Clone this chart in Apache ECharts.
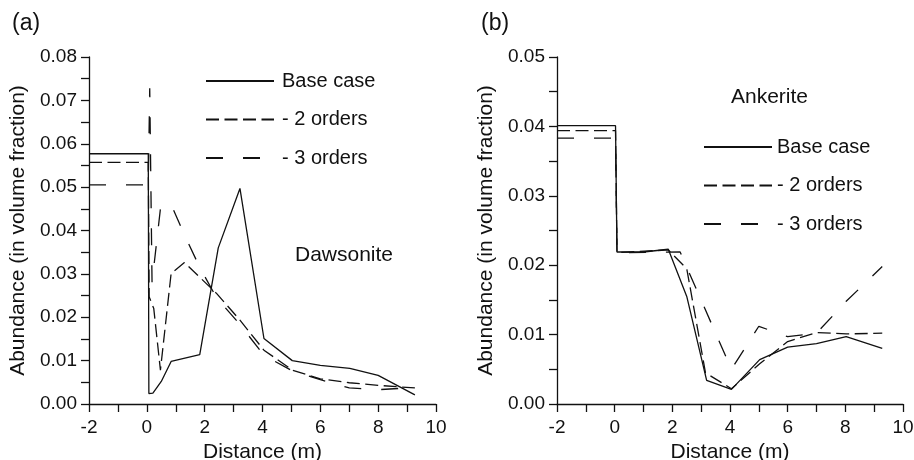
<!DOCTYPE html>
<html>
<head>
<meta charset="utf-8">
<script src="https://cdn.jsdelivr.net/npm/echarts@6/dist/echarts.min.js"></script>
<style>
  html, body { margin: 0; padding: 0; background: #fff; }
  #chart { width: 914px; height: 460px; }
</style>
</head>
<body>
<div id="chart"></div>
<script>
// Series names shared by both panels
const seriesNames = ['Base case', '- 2 orders', '- 3 orders'];

// (a) Dawsonite abundance vs distance [m, volume fraction]
const dawsoniteBase = [[-2, 0.0577], [0.05, 0.0577], [0.07, 0.0024], [0.21, 0.0025], [0.5, 0.0052], [0.84, 0.0098], [1.83, 0.0114], [2.47, 0.036], [3.22, 0.0497], [4.05, 0.0151], [5.03, 0.0100], [6.0, 0.0089], [7.02, 0.0082], [8.0, 0.0066], [9.27, 0.0021]];
const dawsonite2 = [[-2, 0.0557], [0.05, 0.0557], [0.08, 0.0247], [0.24, 0.0220], [0.47, 0.0078], [0.84, 0.0301], [1.3, 0.0326], [2.41, 0.0255], [3.2, 0.0195], [4.05, 0.0124], [5.04, 0.0078], [6.0, 0.0058], [7.0, 0.0049], [8.0, 0.0043], [9.27, 0.0037]];
const dawsonite3 = [[-2, 0.0505], [0.05, 0.0505], [0.1, 0.0728], [0.18, 0.028], [0.48, 0.0456], [0.84, 0.046], [1.3, 0.039], [1.83, 0.0315], [2.41, 0.0245], [3.2, 0.0185], [4.05, 0.0112], [5.04, 0.0076], [6.0, 0.0056], [7.0, 0.0037], [8.0, 0.0033], [9.27, 0.0038]];

// (b) Ankerite abundance vs distance [m, volume fraction]
const ankeriteBase = [[-2, 0.0401], [0.03, 0.0401], [0.08, 0.0219], [1.0, 0.0219], [1.86, 0.0223], [2.5, 0.0155], [3.19, 0.0034], [4.05, 0.0021], [5.03, 0.0064], [6.0, 0.0082], [7.0, 0.0087], [8.03, 0.0097], [9.28, 0.0080]];
const ankerite2 = [[-2, 0.0394], [0.03, 0.0394], [0.08, 0.0218], [1.86, 0.0222], [2.5, 0.0195], [3.15, 0.0045], [4.05, 0.0022], [5.03, 0.0058], [6.0, 0.0090], [7.0, 0.0103], [8.03, 0.0101], [9.28, 0.0102]];
const ankerite3 = [[-2, 0.0383], [0.03, 0.0383], [0.08, 0.0218], [2.27, 0.0219], [4.05, 0.0050], [5.0, 0.0112], [6.0, 0.0097], [7.0, 0.0102], [8.03, 0.0148], [9.28, 0.0198]];

// Axis extents
const xRange = [-2, 10, 2];
const yRangeA = [0, 0.08, 0.01];
const yRangeB = [0, 0.05, 0.01];

const FONT = "'Liberation Sans', Arial, Helvetica, sans-serif";
const INK = '#111';
const dashStyles = ['solid', [13, 5.5], [17, 20]];

function xAxisFor(grid) {
  return {
    type: 'value', gridIndex: grid,
    min: xRange[0], max: xRange[1], interval: xRange[2],
    name: 'Distance (m)', nameLocation: 'middle', nameGap: 36,
    nameTextStyle: { fontFamily: FONT, fontSize: 21, color: INK },
    axisLine: { show: true, onZero: false, lineStyle: { color: INK, width: 1.3 } },
    axisTick: { show: true, inside: false, length: 8, lineStyle: { color: INK, width: 1.3 } },
    minorTick: { show: true, splitNumber: 2, length: 8, lineStyle: { color: INK, width: 1.3 } },
    axisLabel: { fontFamily: FONT, fontSize: 19, color: INK, margin: 14 },
    splitLine: { show: false }
  };
}

function yAxisFor(grid, range) {
  return {
    type: 'value', gridIndex: grid,
    min: range[0], max: range[1], interval: range[2],
    name: 'Abundance (in volume fraction)', nameLocation: 'middle', nameGap: 60, nameRotate: 90,
    nameTextStyle: { fontFamily: FONT, fontSize: 21, color: INK },
    axisLine: { show: true, onZero: false, lineStyle: { color: INK, width: 1.3 } },
    axisTick: { show: true, inside: false, length: 8, lineStyle: { color: INK, width: 1.3 } },
    minorTick: { show: true, splitNumber: 2, length: 8, lineStyle: { color: INK, width: 1.3 } },
    axisLabel: { fontFamily: FONT, fontSize: 19, color: INK, margin: 12, formatter: v => v.toFixed(2) },
    splitLine: { show: false }
  };
}

function lineSeries(name, data, axis, style) {
  return {
    type: 'line', name: name, data: data,
    xAxisIndex: axis, yAxisIndex: axis,
    symbol: 'none', smooth: false, silent: true, animation: false,
    lineStyle: { color: INK, width: 1.3, type: style },
    itemStyle: { color: INK }
  };
}

function legendAt(left, top, textGap) {
  return {
    data: seriesNames, orient: 'vertical', left: left, top: top, padding: 0,
    itemWidth: 68, itemHeight: 14, itemGap: 18.5,
    selectedMode: false,
    itemStyle: { opacity: 0 },
    textStyle: { fontFamily: FONT, fontSize: 20, color: INK, padding: [0, 0, 0, textGap] }
  };
}

function label(text, left, top, size) {
  return {
    text: text, left: left, top: top, padding: 0,
    textStyle: { fontFamily: FONT, fontSize: size, fontWeight: 'normal', color: INK }
  };
}

const chart = echarts.init(document.getElementById('chart'), null, { renderer: 'canvas' });
chart.setOption({
  animation: false,
  backgroundColor: '#fff',
  title: [
    label('(a)', 12, 12, 23),
    label('(b)', 481, 12, 23),
    label('Dawsonite', 295, 245, 21),
    label('Ankerite', 731, 87, 21)
  ],
  legend: [legendAt(205, 71, 3), legendAt(703, 137, 0)],
  grid: [
    { left: 89, top: 57, width: 347, height: 347, outerBoundsMode: 'none', containLabel: false },
    { left: 557, top: 57, width: 346, height: 347, outerBoundsMode: 'none', containLabel: false }
  ],
  xAxis: [xAxisFor(0), xAxisFor(1)],
  yAxis: [yAxisFor(0, yRangeA), yAxisFor(1, yRangeB)],
  series: [
    lineSeries(seriesNames[0], dawsoniteBase, 0, dashStyles[0]),
    lineSeries(seriesNames[1], dawsonite2, 0, dashStyles[1]),
    lineSeries(seriesNames[2], dawsonite3, 0, dashStyles[2]),
    lineSeries(seriesNames[0], ankeriteBase, 1, dashStyles[0]),
    lineSeries(seriesNames[1], ankerite2, 1, dashStyles[1]),
    lineSeries(seriesNames[2], ankerite3, 1, dashStyles[2])
  ]
});
</script>
</body>
</html>
